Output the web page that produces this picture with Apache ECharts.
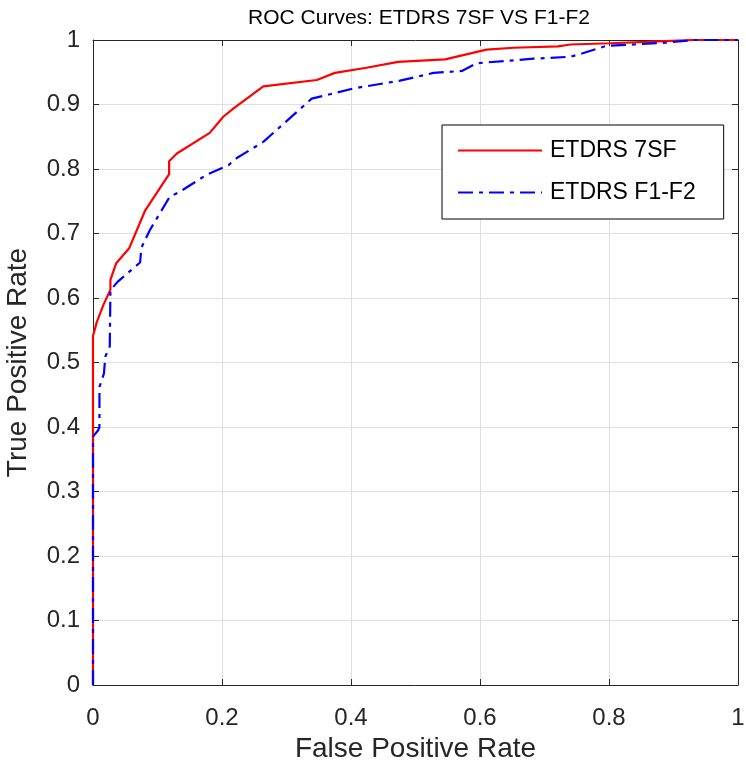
<!DOCTYPE html>
<html>
<head>
<meta charset="utf-8">
<script src="https://cdn.jsdelivr.net/npm/echarts@6/dist/echarts.min.js"></script>
<style>
html,body{margin:0;padding:0;background:#fff;}
#chart{width:746px;height:771px;}
</style>
</head>
<body>
<div id="chart"></div>
<script>
var titleText = 'ROC Curves: ETDRS 7SF VS F1-F2';
var xName = 'False Positive Rate';
var yName = 'True Positive Rate';
var seriesNames = ['ETDRS 7SF', 'ETDRS F1-F2'];

var fpr7SF = [0, 0, 0.006, 0.016, 0.027, 0.027, 0.036, 0.056, 0.081, 0.118, 0.118, 0.130, 0.181, 0.202, 0.218, 0.264, 0.347, 0.375, 0.424, 0.473, 0.546, 0.610, 0.652, 0.721, 0.740, 0.802, 0.858, 0.931, 1];
var tpr7SF = [0, 0.541, 0.563, 0.589, 0.613, 0.628, 0.654, 0.677, 0.736, 0.792, 0.812, 0.824, 0.856, 0.881, 0.894, 0.928, 0.938, 0.949, 0.957, 0.966, 0.970, 0.985, 0.988, 0.990, 0.993, 0.995, 0.997, 1, 1];

var fprF1F2 = [0, 0, 0.008, 0.010, 0.010, 0.017, 0.019, 0.026, 0.027, 0.038, 0.073, 0.075, 0.088, 0.119, 0.135, 0.176, 0.210, 0.223, 0.264, 0.339, 0.360, 0.404, 0.476, 0.528, 0.572, 0.595, 0.683, 0.740, 0.758, 0.796, 0.838, 0.889, 0.931, 1];
var tprF1F2 = [0, 0.385, 0.395, 0.400, 0.462, 0.483, 0.509, 0.525, 0.612, 0.625, 0.655, 0.678, 0.705, 0.757, 0.765, 0.791, 0.806, 0.817, 0.842, 0.909, 0.914, 0.925, 0.937, 0.949, 0.952, 0.964, 0.971, 0.974, 0.979, 0.991, 0.993, 0.996, 1, 1];

function pairs(xs, ys){ return xs.map(function(x,i){ return [x, ys[i]]; }); }

var FONT = '"Liberation Sans", Arial, Helvetica, sans-serif';
var AX = '#262626';
var chart = echarts.init(document.getElementById('chart'), null, {renderer:'canvas'});

var baseTick = {show:true, inside:true, length:6, lineStyle:{color:AX, width:1}};
var option = {
  backgroundColor:'#fff',
  animation:false,
  title:{
    text:titleText, left:414, top:3, textAlign:'center',
    textStyle:{fontFamily:FONT, fontSize:21, fontWeight:'normal', color:'#000'}
  },
  grid:{left:93, right:8, top:40, bottom:86, containLabel:false, outerBoundsMode:'none'},
  legend:{
    orient:'vertical', left:442, top:125,
    backgroundColor:'#fff', borderColor:'#000', borderWidth:1, borderRadius:0,
    padding:[14,28,15,15],
    itemWidth:84, itemHeight:22, itemGap:19,
    itemStyle:{opacity:0},
    textStyle:{fontFamily:FONT, fontSize:23, color:'#000', padding:[0,0,0,3]},
    data:[seriesNames[0], seriesNames[1]]
  },
  xAxis:[{
    type:'value', min:0, max:1, interval:0.2, position:'bottom',
    name:xName, nameLocation:'middle', nameGap:48,
    nameTextStyle:{fontFamily:FONT, fontSize:28, color:AX},
    axisLine:{show:true, lineStyle:{color:AX, width:1}},
    axisTick:baseTick,
    axisLabel:{fontFamily:FONT, fontSize:24, color:AX, margin:21},
    splitLine:{show:true, lineStyle:{color:'#dfdfdf', width:1}}
  },{
    type:'value', min:0, max:1, interval:0.2, position:'top',
    axisLine:{show:true, onZero:false, lineStyle:{color:AX, width:1}},
    axisTick:baseTick, axisLabel:{show:false}, splitLine:{show:false}
  }],
  yAxis:[{
    type:'value', min:0, max:1, interval:0.1, position:'left',
    name:yName, nameLocation:'middle', nameGap:61,
    nameTextStyle:{fontFamily:FONT, fontSize:28, color:AX},
    axisLine:{show:true, lineStyle:{color:AX, width:1}},
    axisTick:baseTick,
    axisLabel:{fontFamily:FONT, fontSize:24, color:AX, margin:13},
    splitLine:{show:true, lineStyle:{color:'#dfdfdf', width:1}}
  },{
    type:'value', min:0, max:1, interval:0.1, position:'right',
    axisLine:{show:true, onZero:false, lineStyle:{color:AX, width:1}},
    axisTick:baseTick, axisLabel:{show:false}, splitLine:{show:false}
  }],
  series:[{
    name:seriesNames[0], type:'line', xAxisIndex:0, yAxisIndex:0,
    data:pairs(fpr7SF, tpr7SF), symbol:'none', showSymbol:false,
    lineStyle:{color:'#ff0000', width:2.2, type:'solid'},
    itemStyle:{color:'#ff0000'}, z:2
  },{
    name:seriesNames[1], type:'line', xAxisIndex:0, yAxisIndex:0,
    data:pairs(fprF1F2, tprF1F2), symbol:'none', showSymbol:false,
    lineStyle:{color:'#0000ff', width:2.2, type:[15,6,4,6]},
    itemStyle:{color:'#0000ff'}, z:3
  }]
};
chart.setOption(option);
</script>
</body>
</html>
